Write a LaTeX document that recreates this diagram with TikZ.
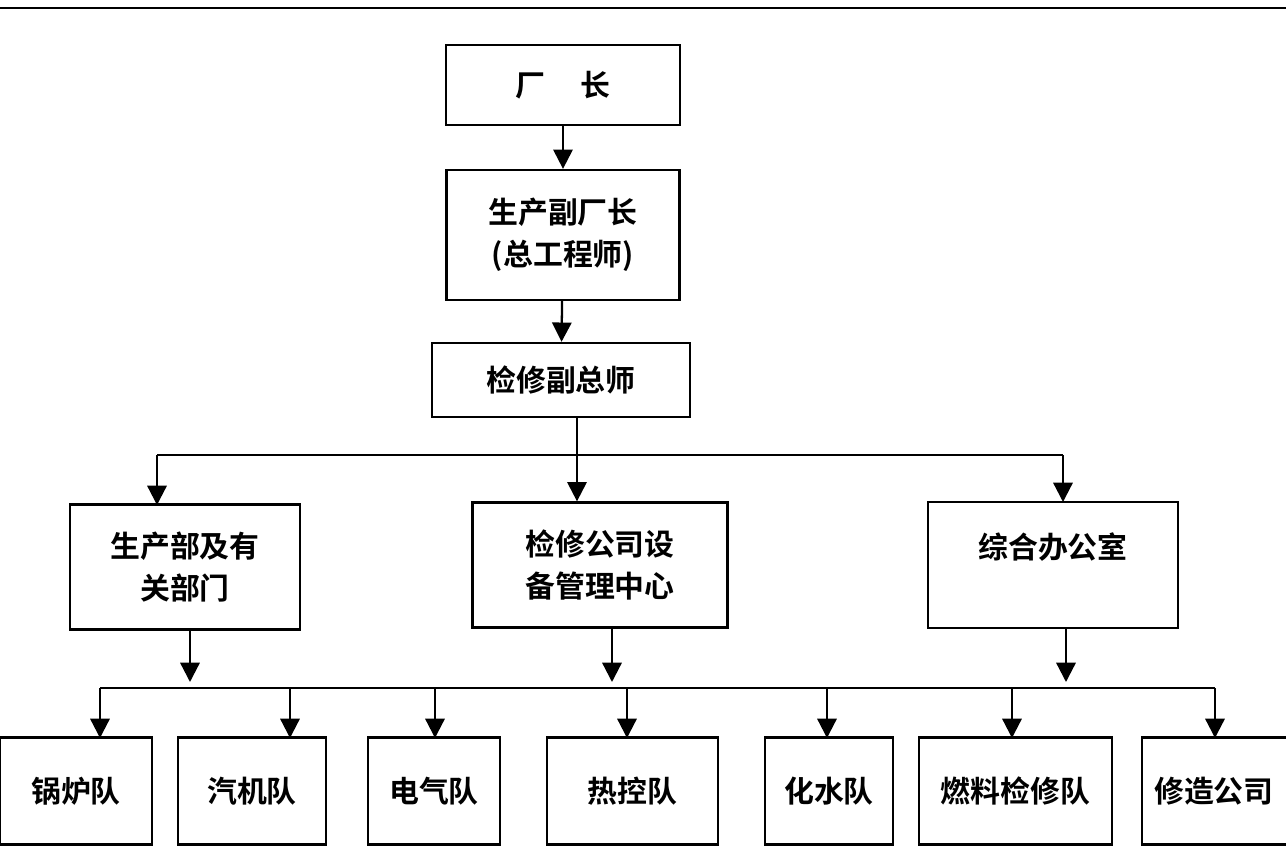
\documentclass[tikz,border=0pt]{standalone}
\usepackage{fontspec}
\newfontfamily\cjk{Noto Sans CJK SC Bold}
\usetikzlibrary{arrows.meta,positioning}
\begin{document}
\begin{tikzpicture}[x=0.02cm,y=-0.02cm,line width=1.3pt,
  box/.style={draw,rectangle,inner sep=0pt,font=\cjk\fontsize{17}{24}\selectfont,align=center},
  arr/.style={-{Triangle[length=11pt,width=11pt]}}]
  \useasboundingbox (0,0) rectangle (1286,863);
  \draw[line width=1.6pt] (0,8) -- (1286,8);

  % top chain
  \node[box,minimum width=234*0.02cm,minimum height=80*0.02cm] (cz) at (563,85) {厂\hspace{1.2em}长};
  \node[box,minimum width=233*0.02cm,minimum height=130*0.02cm] (fcz) at (563,235) {生产副厂长\\(总工程师)};
  \node[box,minimum width=258*0.02cm,minimum height=74*0.02cm] (fzs) at (561,380) {检修副总师};
  \draw[arr] (cz) -- (fcz);
  \draw[arr] (fcz) -- (fzs);

  % second level
  \node[box,minimum width=230*0.02cm,minimum height=125*0.02cm] (scb) at (185,567) {生产部及有\\关部门};
  \node[box,minimum width=255*0.02cm,minimum height=125*0.02cm] (glzx) at (600,565) {检修公司设\\备管理中心};
  \node[box,minimum width=250*0.02cm,minimum height=126*0.02cm] (zhb) at (1053,565) {};
  \node[font=\cjk\fontsize{17}{24}\selectfont,below=14pt of zhb.north,anchor=north] (zhbt) {综合办公室};

  \coordinate (s1) at (577,455);
  \draw (fzs.south -| s1) -- (s1);
  \draw (157,455) -- (1063,455);
  \draw[arr] (157,455) -- (157,505);
  \draw[arr] (s1) -- (glzx.north -| s1);
  \draw[arr] (1063,455) -- (1063,502);

  % arrows below second level
  \draw[arr] (scb.south -| 190,0) -- (190,682);
  \draw[arr] (glzx.south -| 612,0) -- (612,682);
  \draw[arr] (zhb.south -| 1066,0) -- (1066,682);

  % bottom row
  \draw (100,688) -- (1215,688);
  \foreach \name/\txt/\xa/\xb/\xar in {
      gl/锅炉队/0/152/100, qj/汽机队/178/326/290, dq/电气队/368/500/435,
      rk/热控队/547/718/627, hs/化水队/765/893/827, rl/燃料检修队/919/1112/1012}{
    \node[box,minimum width={(\xb-\xa)*0.02cm},minimum height=107*0.02cm] (\name) at ({(\xa+\xb)/2},791) {\txt};
    \draw[arr] (\xar,688) -- (\xar,738);
  }
  \node[box,minimum width=180*0.02cm,minimum height=107*0.02cm,anchor=west,text width=170*0.02cm,align=left] (xz) at (1141,791) {\hspace{4pt}修造公司};
  \draw[arr] (1215,688) -- (1215,738);
\end{tikzpicture}
\end{document}
